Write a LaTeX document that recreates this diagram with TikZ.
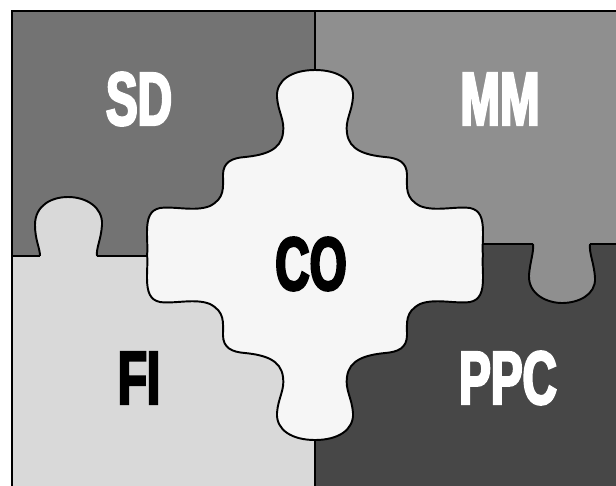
\documentclass[tikz,border=0pt]{standalone}
\usepackage{fontspec}
\newfontfamily\puzzlefont[FakeStretch=0.63,FakeBold=3]{Liberation Sans Bold}
\definecolor{sdgray}{gray}{0.45}
\definecolor{mmgray}{gray}{0.56}
\definecolor{figray}{gray}{0.85}
\definecolor{ppcgray}{gray}{0.28}
\definecolor{cogray}{gray}{0.965}
\tikzset{
  piece/.style={draw=black, line width=1.1pt
  },
  divider/.style={draw=black, line width=0.7pt
  },
  whitetxt/.style={text=white, inner sep=0mm, font=\puzzlefont\fontsize{43}{45}\selectfont
  },
  blacktxt/.style={text=black, inner sep=0mm, font=\puzzlefont\fontsize{43}{45}\selectfont
  }
}

\begin{document}
\begin{tikzpicture}[x=0.02cm, y=-0.02cm]
   \useasboundingbox (0,0) rectangle (616,485);
   \clip (0,0) rectangle (616,485);

   % four quarters
   \fill[sdgray] (12,11) rectangle (315,256);
   \fill[mmgray] (315,11) rectangle (640,244);
   \fill[figray] (12,256) rectangle (315,500);
   \fill[ppcgray] (315,244) rectangle (640,500);

   % tabs
   \path[piece, fill=figray] (40,256) .. controls (40,248) and (35,240) .. (35,225)
      .. controls (35,205) and (52,197) .. (68,197)
      .. controls (86,197) and (103,207) .. (102,225)
      .. controls (101,240) and (96,248) .. (97,256);
   \path[piece, fill=mmgray] (533,244) .. controls (534,252) and (530,262) .. (529,275)
      .. controls (528,295) and (548,303) .. (562,303)
      .. controls (578,303) and (596,295) .. (595,278)
      .. controls (594,262) and (589,254) .. (590,244);

   \draw[divider] (12,256) -- (40,256) (97,256) -- (315,256);
   \draw[divider] (315,244) -- (533,244) (590,244) -- (640,244);
   \draw[divider] (315,11) -- (315,500);
   \draw[line width=1.2pt] (12,500) -- (12,11) -- (640,11);

   % center piece
   \path[piece, fill=cogray] (315,70) .. controls (338,70) and (354,80) .. (353,97)
      .. controls (352,112) and (345,120) .. (347,133)
      .. controls (349,150) and (365,155) .. (385,157)
      .. controls (398,158) and (407,162) .. (407,175)
      .. controls (407,188) and (405,198) .. (420,206)
      .. controls (435,212) and (455,206) .. (470,208)
      .. controls (480,210) and (483,218) .. (483,232)
      .. controls (483,245) and (482,250) .. (483,255)
      .. controls (482,260) and (483,265) .. (483,278)
      .. controls (483,292) and (480,300) .. (470,302)
      .. controls (455,304) and (435,298) .. (420,304)
      .. controls (405,312) and (407,322) .. (407,335)
      .. controls (407,348) and (398,352) .. (385,353)
      .. controls (365,355) and (349,360) .. (347,377)
      .. controls (345,390) and (352,398) .. (353,413)
      .. controls (354,430) and (338,440) .. (315,440)
      .. controls (292,440) and (276,430) .. (277,413)
      .. controls (278,398) and (285,390) .. (283,377)
      .. controls (281,360) and (265,355) .. (245,353)
      .. controls (232,352) and (223,348) .. (223,335)
      .. controls (223,322) and (225,312) .. (210,304)
      .. controls (195,298) and (175,304) .. (160,302)
      .. controls (150,300) and (147,292) .. (147,278)
      .. controls (147,265) and (148,260) .. (147,255)
      .. controls (148,250) and (147,245) .. (147,232)
      .. controls (147,218) and (150,210) .. (160,208)
      .. controls (175,206) and (195,212) .. (210,206)
      .. controls (225,198) and (223,188) .. (223,175)
      .. controls (223,162) and (232,158) .. (245,157)
      .. controls (265,155) and (281,150) .. (283,133)
      .. controls (285,120) and (278,112) .. (277,97)
      .. controls (276,80) and (292,70) .. (315,70) -- cycle;

   \node[whitetxt] (sd) at (139,99) {SD};
   \node[whitetxt] (mm) at (500,99) {MM};
   \node[blacktxt] (co) at (311,264) {CO};
   \node[blacktxt] (fi) at (139,378) {FI};
   \node[whitetxt] (ppc) at (508,378) {PPC};
\end{tikzpicture}
\end{document}
